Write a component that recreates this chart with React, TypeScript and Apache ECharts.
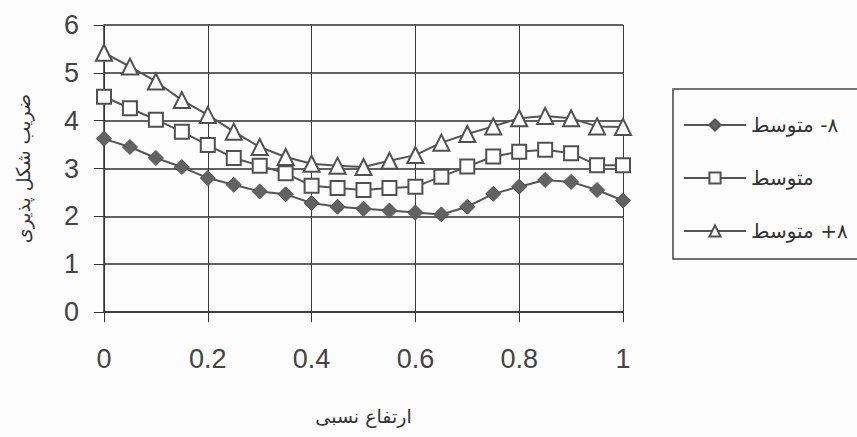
import React, { useEffect, useRef } from "react";
import * as echarts from "echarts";

const xValues = [0, 0.05, 0.1, 0.15, 0.2, 0.25, 0.3, 0.35, 0.4, 0.45, 0.5, 0.55, 0.6, 0.65, 0.7, 0.75, 0.8, 0.85, 0.9, 0.95, 1];
const lowValues = [3.62, 3.45, 3.22, 3.03, 2.8, 2.66, 2.52, 2.46, 2.28, 2.2, 2.16, 2.12, 2.08, 2.04, 2.2, 2.47, 2.62, 2.76, 2.72, 2.55, 2.33];
const meanValues = [4.5, 4.26, 4.02, 3.77, 3.49, 3.22, 3.06, 2.9, 2.64, 2.59, 2.55, 2.59, 2.62, 2.83, 3.04, 3.25, 3.35, 3.39, 3.32, 3.07, 3.07];
const highValues = [5.42, 5.13, 4.82, 4.43, 4.12, 3.77, 3.45, 3.24, 3.1, 3.06, 3.03, 3.16, 3.28, 3.54, 3.72, 3.88, 4.05, 4.1, 4.05, 3.88, 3.87];
const seriesNames = ["٨- متوسط", "متوسط", "٨+ متوسط"];
const xTitle = "ارتفاع نسبی";
const yTitle = "ضریب شکل پذیری";

export default function App() {
  const ref = useRef<HTMLDivElement>(null);
  useEffect(() => {
    document.body.style.margin = "0";
    const chart = echarts.init(ref.current!, null, { renderer: "svg" });
    const toPairs = (vals: number[]) => xValues.map((x, i) => [x, vals[i]]);
    const lineColor = "#555";
    const arabicFont = "DejaVu Sans";
    chart.setOption({
      animation: false,
      backgroundColor: "#fcfcfc",
      grid: { left: 104, right: 234, top: 25, bottom: 125 },
      xAxis: {
        type: "value",
        min: 0,
        max: 1,
        interval: 0.2,
        name: xTitle,
        nameLocation: "middle",
        nameGap: 94,
        nameTextStyle: { fontFamily: arabicFont, fontSize: 19, color: "#333" },
        axisLine: { show: true, onZero: false, lineStyle: { color: "#333", width: 1.5 } },
        axisTick: { show: true, length: 10, lineStyle: { color: "#333", width: 1 } },
        axisLabel: { margin: 33, fontFamily: "Liberation Sans", fontSize: 27, color: "#444" },
        splitLine: { show: true, lineStyle: { color: "#3a3a3a", width: 1 } },
      },
      yAxis: {
        type: "value",
        min: 0,
        max: 6,
        interval: 1,
        name: yTitle,
        nameLocation: "middle",
        nameRotate: 90,
        nameGap: 72,
        nameTextStyle: { fontFamily: arabicFont, fontSize: 19, color: "#333" },
        axisLine: { show: true, onZero: false, lineStyle: { color: "#333", width: 1.5 } },
        axisTick: { show: true, length: 10, lineStyle: { color: "#333", width: 1 } },
        axisLabel: { margin: 25, fontFamily: "Liberation Sans", fontSize: 27, color: "#444" },
        splitLine: { show: true, lineStyle: { color: "#2e2e2e", width: 1.5 } },
      },
      legend: {
        orient: "vertical",
        left: 673,
        top: 89,
        padding: [26, 40, 18, 10],
        itemWidth: 62,
        itemHeight: 14,
        itemGap: 33,
        borderColor: "#444",
        borderWidth: 1.5,
        textStyle: { fontFamily: arabicFont, fontSize: 20, color: "#333" },
        data: seriesNames,
      },
      series: [
        {
          name: seriesNames[0],
          type: "line",
          data: toPairs(lowValues),
          symbol: "diamond",
          symbolSize: 15,
          lineStyle: { color: lineColor, width: 2 },
          itemStyle: { color: "#626262", borderColor: "#505050", borderWidth: 1 },
        },
        {
          name: seriesNames[1],
          type: "line",
          data: toPairs(meanValues),
          symbol: "rect",
          symbolSize: 14,
          lineStyle: { color: lineColor, width: 2 },
          itemStyle: { color: "#fcfcfc", borderColor: "#505050", borderWidth: 2 },
        },
        {
          name: seriesNames[2],
          type: "line",
          data: toPairs(highValues),
          symbol: "triangle",
          symbolSize: 16,
          lineStyle: { color: lineColor, width: 2 },
          itemStyle: { color: "#fcfcfc", borderColor: "#505050", borderWidth: 2 },
        },
      ],
    });
    return () => chart.dispose();
  }, []);
  return <div ref={ref} style={{ width: 857, height: 437 }} />;
}
